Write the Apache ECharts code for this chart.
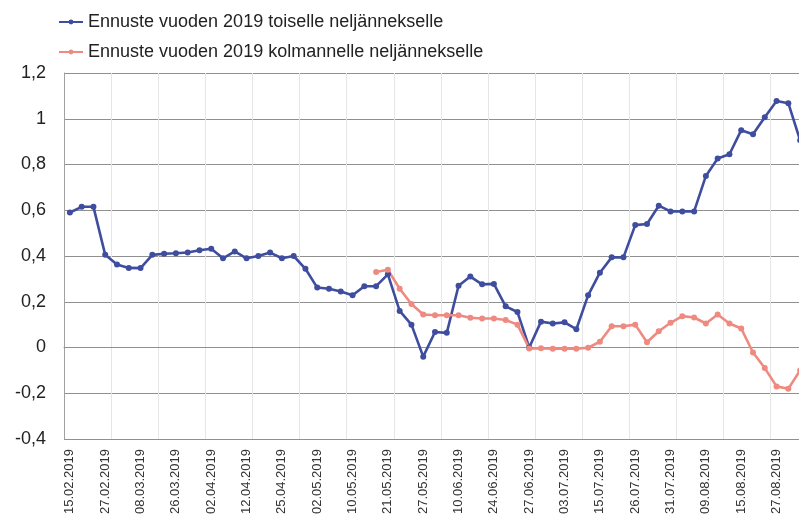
<!DOCTYPE html>
<html>
<head>
<meta charset="utf-8">
<title>Ennuste vuoden 2019</title>
<script src="https://cdn.jsdelivr.net/npm/echarts@6/dist/echarts.min.js"></script>
<style>
html, body { margin: 0; padding: 0; background: #fff; }
#chart { width: 799px; height: 526px; }
</style>
</head>
<body>
<div id="chart"></div>
<script>
// päivämäärät jotka näkyvät akselilla (joka kolmas havainto)
var dateLabels = ['15.02.2019','27.02.2019','08.03.2019','26.03.2019','02.04.2019','12.04.2019',
    '25.04.2019','02.05.2019','10.05.2019','21.05.2019','27.05.2019','10.06.2019','24.06.2019',
    '27.06.2019','03.07.2019','15.07.2019','26.07.2019','31.07.2019','09.08.2019','15.08.2019','27.08.2019'];

var seriesNames = ['Ennuste vuoden 2019 toiselle neljännekselle',
    'Ennuste vuoden 2019 kolmannelle neljännekselle'];

// toinen neljännes
var q2Values = [0.59,0.615,0.615,0.405,0.363,0.348,0.347,0.405,0.41,0.412,
    0.415,0.425,0.432,0.39,0.42,0.39,0.40,0.415,0.39,0.40,
    0.344,0.262,0.257,0.245,0.228,0.268,0.268,0.32,0.16,0.10,
    -0.04,0.068,0.064,0.27,0.31,0.276,0.278,0.18,0.155,0.0,
    0.113,0.105,0.11,0.08,0.228,0.327,0.394,0.394,0.535,0.54,
    0.62,0.595,0.595,0.595,0.75,0.826,0.845,0.95,0.932,1.007,
    1.078,1.068,0.906];

// kolmas neljännes (alkaa toukokuussa)
var q3Values = [null,null,null,null,null,null,null,null,null,null,
    null,null,null,null,null,null,null,null,null,null,
    null,null,null,null,null,null,0.33,0.34,0.257,0.19,
    0.144,0.141,0.141,0.141,0.13,0.127,0.127,0.12,0.10,-0.004,
    -0.003,-0.005,-0.005,-0.005,-0.001,0.025,0.093,0.093,0.10,0.023,
    0.071,0.108,0.137,0.131,0.105,0.144,0.105,0.083,-0.022,-0.09,
    -0.17,-0.18,-0.10];

var yTicks = { min: -0.4, max: 1.2, step: 0.2 };

var categories = [];
for (var i = 0; i < q2Values.length; i++) {
    categories.push(i % 3 === 0 ? dateLabels[i / 3] : '');
}

var FONT = 'Liberation Sans, Arial, sans-serif';

var makeLine = function(name, data, color) {
    return {
        name: name,
        type: 'line',
        data: data,
        symbol: 'circle',
        symbolSize: 6,
        showAllSymbol: true,
        connectNulls: false,
        lineStyle: { color: color, width: 2.6 },
        itemStyle: { color: color }
    };
};

var option = {
    animation: false,
    backgroundColor: '#fff',
    color: ['#3f4d9f', '#ef8a80'],
    legend: {
        orient: 'vertical',
        left: 53,
        top: 8,
        itemWidth: 24,
        itemHeight: 6,
        itemGap: 12,
        textStyle: { fontFamily: FONT, fontSize: 18, color: '#222' },
        data: seriesNames
    },
    grid: {
        left: 64,
        top: 73,
        width: 742,
        height: 366,
        containLabel: false,
        outerBoundsMode: 'none'
    },
    xAxis: {
        type: 'category',
        boundaryGap: true,
        data: categories,
        axisLine: { lineStyle: { color: '#909090', width: 1 } },
        axisTick: { show: false },
        axisLabel: {
            interval: 2,
            rotate: 90,
            margin: 10,
            fontFamily: FONT,
            fontSize: 13,
            color: '#333'
        },
        splitLine: { show: true, interval: 3, lineStyle: { color: '#e6e6e6', width: 1 } }
    },
    yAxis: {
        type: 'value',
        min: yTicks.min,
        max: yTicks.max,
        interval: yTicks.step,
        axisLine: { show: true, lineStyle: { color: '#a0a0a0' } },
        axisTick: { show: false },
        axisLabel: {
            margin: 18,
            fontFamily: FONT,
            fontSize: 18,
            color: '#222',
            formatter: function(v) {
                return String(Number(v.toFixed(1))).replace('.', ',');
            }
        },
        splitLine: { lineStyle: { color: '#909090', width: 1 } }
    },
    series: [
        makeLine(seriesNames[0], q2Values, '#3f4d9f'),
        makeLine(seriesNames[1], q3Values, '#ef8a80')
    ]
};

var chart = echarts.init(document.getElementById('chart'));
chart.setOption(option);
</script>
</body>
</html>
